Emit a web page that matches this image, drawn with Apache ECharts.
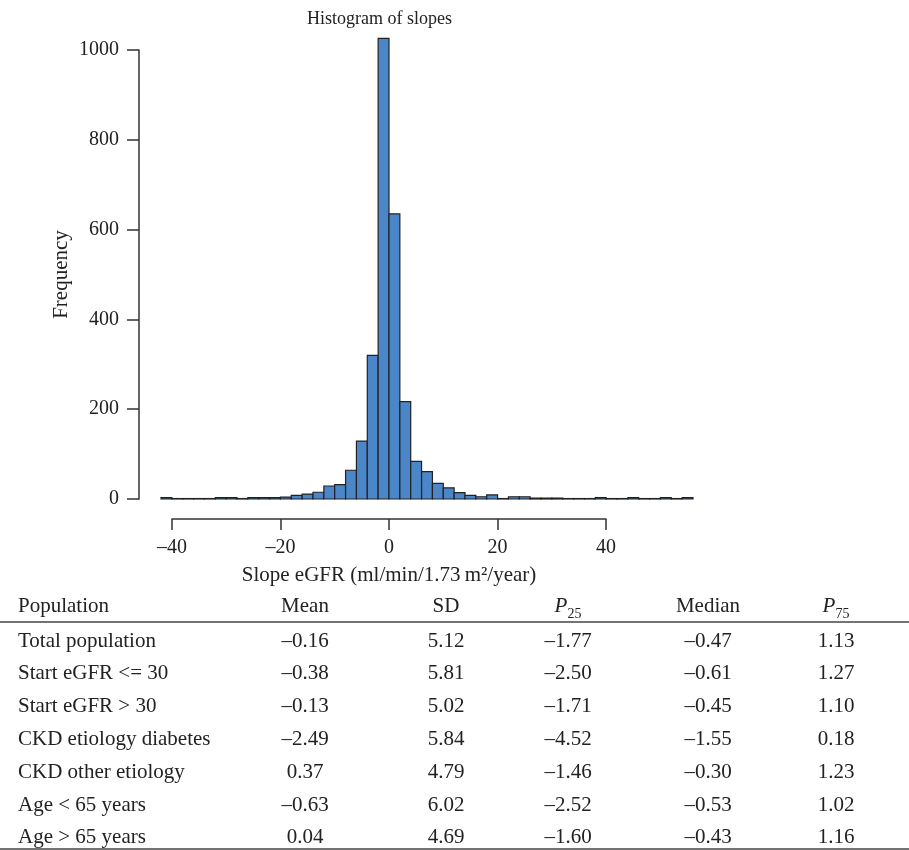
<!DOCTYPE html>
<head>
    <meta charset="UTF-8">
    <title>Histogram of slopes</title>
</head>
<body style="margin:0;background:#fff">
<div id="main" style="width:909px;height:850px"></div>
<script src="https://cdn.jsdelivr.net/npm/echarts@6/dist/echarts.min.js"></script>
<script type="text/javascript">
// histogram bins (width 2) and frequencies
var binStarts = [-42,-40,-38,-36,-34,-32,-30,-28,-26,-24,-22,-20,-18,-16,-14,-12,-10,-8,-6,-4,-2,
                 0,2,4,6,8,10,12,14,16,18,20,22,24,26,28,30,32,34,36,38,40,42,44,46,48,50,52,54];
var counts = [3,1,1,1,1,3,3,1,3,3,3,4,8,11,15,29,32,64,129,320,1026,
              635,217,84,61,35,25,14,8,5,9,1,5,5,2,2,2,1,1,1,3,1,1,3,1,1,3,1,3];
var binWidth = 2;

// summary table
var tableHeader = ['Population', 'Mean', 'SD', 'P25', 'Median', 'P75'];
var rowLabels = ['Total population', 'Start eGFR <= 30', 'Start eGFR > 30', 'CKD etiology diabetes',
                 'CKD other etiology', 'Age < 65 years', 'Age > 65 years'];
var meanVals = ['–0.16', '–0.38', '–0.13', '–2.49', '0.37', '–0.63', '0.04'];
var sdVals = ['5.12', '5.81', '5.02', '5.84', '4.79', '6.02', '4.69'];
var p25Vals = ['–1.77', '–2.50', '–1.71', '–4.52', '–1.46', '–2.52', '–1.60'];
var medianVals = ['–0.47', '–0.61', '–0.45', '–1.55', '–0.30', '–0.53', '–0.43'];
var p75Vals = ['1.13', '1.27', '1.10', '0.18', '1.23', '1.02', '1.16'];

var FONT = '"Liberation Serif", "DejaVu Serif", serif';
var TXT = '#222';
var TS = 21;   // table font size

var histData = [];
for (var i = 0; i < counts.length; i++) {
    histData.push([binStarts[i], binStarts[i] + binWidth, counts[i]]);
}

// table graphics
var colX = [305, 446, 568, 708, 836];
var headerY = 606, firstRowY = 641, rowStep = 32.8;
var graphics = [];
var rich = {
    i: {fontFamily: FONT, fontSize: TS, fontStyle: 'italic', color: TXT, lineHeight: 24, verticalAlign: 'middle'},
    sub: {fontFamily: FONT, fontSize: 14, color: TXT, lineHeight: 24, verticalAlign: 'bottom', padding: [0, 0, -3, 0]}
};
graphics.push({type: 'text', x: 18, y: headerY, style: {
    text: tableHeader[0], font: TS + 'px ' + FONT, fill: TXT, verticalAlign: 'middle'}});
for (var c = 1; c < tableHeader.length; c++) {
    var h = tableHeader[c];
    var txt = h.charAt(0) === 'P' && h.length === 3 ? '{i|P}{sub|' + h.slice(1) + '}' : h;
    graphics.push({type: 'text', x: colX[c - 1], y: headerY, style: {
        text: txt, font: TS + 'px ' + FONT, fill: TXT, align: 'center', verticalAlign: 'middle', rich: rich}});
}
graphics.push({type: 'line', shape: {x1: 0, y1: 622, x2: 909, y2: 622}, style: {stroke: '#444', lineWidth: 1.5}});
var cols = [meanVals, sdVals, p25Vals, medianVals, p75Vals];
for (var r = 0; r < rowLabels.length; r++) {
    var yy = firstRowY + r * rowStep;
    graphics.push({type: 'text', x: 18, y: yy, style: {
        text: rowLabels[r], font: TS + 'px ' + FONT, fill: TXT, verticalAlign: 'middle'}});
    for (var k = 0; k < cols.length; k++) {
        graphics.push({type: 'text', x: colX[k], y: yy, style: {
            text: cols[k][r], font: TS + 'px ' + FONT, fill: TXT, align: 'center', verticalAlign: 'middle'}});
    }
}
graphics.push({type: 'line', shape: {x1: 0, y1: 849, x2: 909, y2: 849}, style: {stroke: '#444', lineWidth: 1.5}});

var dash = function (v) { return String(v).replace('-', '–'); };

var option = {
    backgroundColor: '#fff',
    animation: false,
    title: {
        text: 'Histogram of slopes',
        left: 302, top: 5,
        textStyle: {fontFamily: FONT, fontSize: 18, fontWeight: 'normal', color: TXT}
    },
    grid: [
        {left: 161, width: 532, top: 50, height: 449},
        {left: 172, width: 434, top: 499, height: 20}
    ],
    xAxis: [
        {type: 'value', gridIndex: 0, min: -42, max: 56, show: false},
        {
            type: 'value', gridIndex: 1, min: -40, max: 40, interval: 20,
            name: 'Slope eGFR (ml/min/1.73\u2009m²/year)',
            nameLocation: 'middle', nameGap: 46, nameMoveOverlap: false,
            nameTextStyle: {fontFamily: FONT, fontSize: 21, color: TXT},
            axisLine: {onZero: false, lineStyle: {color: '#333', width: 1.5}},
            axisTick: {length: 11, lineStyle: {color: '#333', width: 1.5}},
            axisLabel: {margin: 19, fontFamily: FONT, fontSize: 20, color: TXT, formatter: dash},
            splitLine: {show: false}
        }
    ],
    yAxis: [
        {
            type: 'value', gridIndex: 0, min: 0, max: 1000, interval: 200, offset: 22,
            name: 'Frequency', nameLocation: 'middle', nameGap: 67, nameMoveOverlap: false,
            nameTextStyle: {fontFamily: FONT, fontSize: 21, color: TXT},
            axisLine: {show: true, onZero: false, lineStyle: {color: '#333', width: 1.5}},
            axisTick: {show: true, length: 12, lineStyle: {color: '#333', width: 1.5}},
            axisLabel: {margin: 20, fontFamily: FONT, fontSize: 20, color: TXT,
                formatter: function (v) { return String(v); }},
            splitLine: {show: false}
        },
        {type: 'value', gridIndex: 1, min: 0, max: 1, show: false}
    ],
    series: [
        {
            type: 'custom',
            xAxisIndex: 0, yAxisIndex: 0,
            clip: false,
            encode: {x: [0, 1], y: 2},
            data: histData,
            renderItem: function (params, api) {
                var p0 = api.coord([api.value(0), api.value(2)]);
                var p1 = api.coord([api.value(1), 0]);
                return {
                    type: 'rect',
                    shape: {x: p0[0], y: p0[1], width: p1[0] - p0[0], height: p1[1] - p0[1]},
                    style: {fill: '#4b87c8', stroke: '#222', lineWidth: 1.2}
                };
            }
        }
    ],
    graphic: graphics
};

var myChart = echarts.init(document.getElementById('main'));
myChart.setOption(option);
</script>
</body>
